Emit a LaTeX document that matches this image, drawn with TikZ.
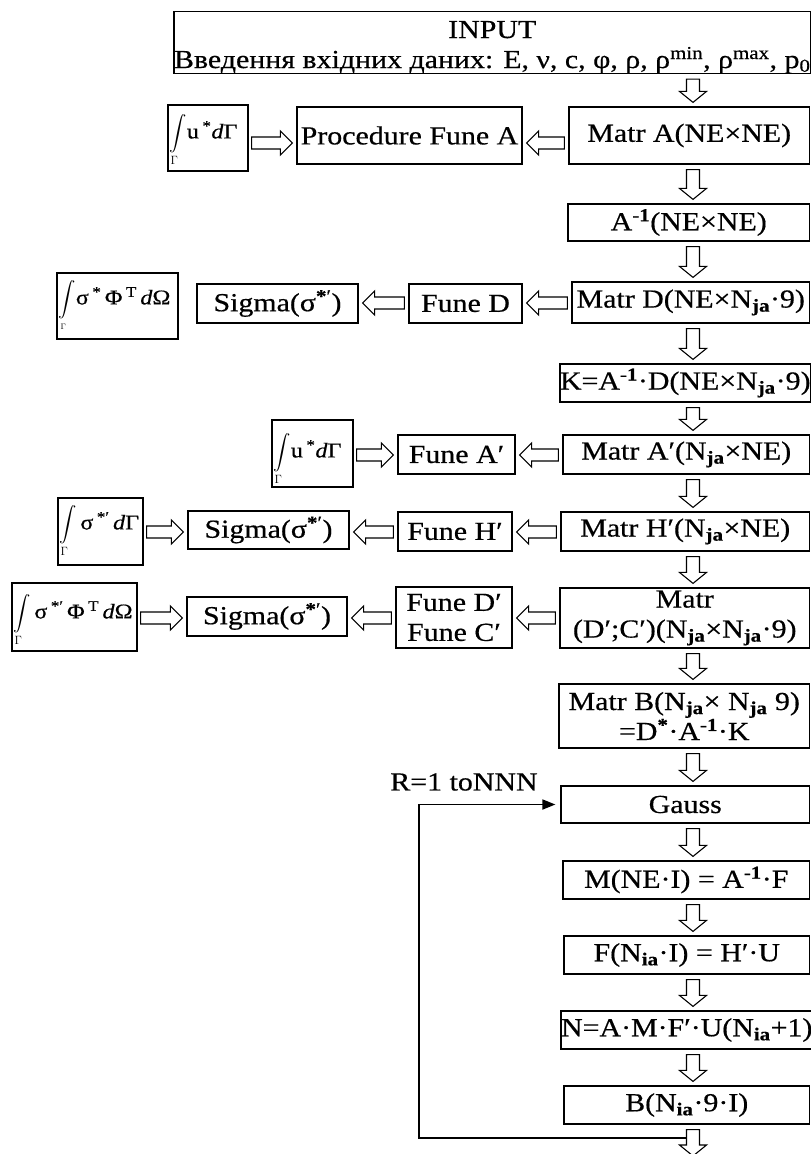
\documentclass[tikz,border=0pt]{standalone}
\usepackage{exscale}
\usepackage{fontspec}
\setmainfont{Liberation Serif}[FakeStretch=1.15,FakeBold=0.5]
\usetikzlibrary{calc,arrows.meta}
\newcommand{\msz}{\fontsize{26}{30}\selectfont}
\newcommand{\isz}{\fontsize{21}{24}\selectfont}
\newcommand{\intsign}[1]{{\fontsize{17}{20}\selectfont$\displaystyle\int\limits_{#1}$}}
\newcommand{\bnode}[6]{\node[box, minimum width=#4pt-#2pt, minimum height=#5pt-#3pt] (#1) at ({(#2+#4)/2},{(#3+#5)/2}) {#6};}
\newcommand{\sgm}{Sigma(σ\textsuperscript{\textbf{*}′})}
\tikzset{
 box/.style={draw=black, line width=1.2pt, inner sep=0pt, align=center, font=\msz},
 inttext/.style={anchor=base west, inner sep=0pt, font=\isz},
 fat/.style={draw=black, line width=1.1pt, fill=white},
 fatdown/.style={fat, to path={let \p1=(\tikztostart), \p2=(\tikztotarget) in
   (\x1-6.5pt,\y1-5pt) -- (\x1-6.5pt,\y2+15pt) -- (\x1-13.5pt,\y2+15pt) -- (\x1,\y2+4pt) -- (\x1+13.5pt,\y2+15pt) -- (\x1+6.5pt,\y2+15pt) -- (\x1+6.5pt,\y1-5pt) -- cycle}},
 fatleft/.style={fat, to path={let \p1=(\tikztostart), \p2=(\tikztotarget) in
   (\x1-4pt,\y1+6pt) -- (\x2+16pt,\y1+6pt) -- (\x2+16pt,\y1+12pt) -- (\x2+4pt,\y1) -- (\x2+16pt,\y1-12pt) -- (\x2+16pt,\y1-6pt) -- (\x1-4pt,\y1-6pt) -- cycle}},
 fatright/.style={fat, to path={let \p1=(\tikztostart), \p2=(\tikztotarget) in
   (\x1+3pt,\y1+6pt) -- (\x2-16pt,\y1+6pt) -- (\x2-16pt,\y1+12pt) -- (\x2-4pt,\y1) -- (\x2-16pt,\y1-12pt) -- (\x2-16pt,\y1-6pt) -- (\x1+3pt,\y1-6pt) -- cycle}},
 loopl/.style={draw=black, line width=1.7pt, -{Triangle[length=13pt,width=10pt]}, shorten >=5pt},
}
\begin{document}
\begin{tikzpicture}[x=1pt,y=-1pt]
\fill[white] (0,0) rectangle (811,1154);
\useasboundingbox (0,0) rectangle (811,1154);
% right column
\bnode{inp}{175}{13}{809.5}{72}{\rule{0pt}{26.6pt}INPUT\\Введення вхідних даних: E, ν, c, φ, ρ, ρ\textsuperscript{min}, ρ\textsuperscript{max}, p\textsubscript{0}}
\bnode{matra}{569}{107}{809.5}{164}{Matr A(NE×NE)}
\bnode{ainv}{568}{204}{809.5}{241}{A\textsuperscript{-\textbf{1}}(NE×NE)}
\bnode{matrd}{572}{282}{809.5}{323}{Matr D(NE×N\textsubscript{\textbf{ja}}·9)}
\bnode{kbox}{561}{364}{809.5}{402}{K=A\textsuperscript{-\textbf{1}}·D(NE×N\textsubscript{\textbf{ja}}·9)}
\bnode{matrap}{563}{435}{809.5}{474}{Matr A′(N\textsubscript{\textbf{ja}}×NE)}
\bnode{matrh}{561}{512}{809.5}{551}{Matr H′(N\textsubscript{\textbf{ja}}×NE)}
\bnode{matrdc}{560}{588}{809.5}{648}{Matr\\(D′;C′)(N\textsubscript{\textbf{ja}}×N\textsubscript{\textbf{ja}}·9)}
\bnode{matrb}{559}{684}{809.5}{748}{Matr B(N\textsubscript{\textbf{ja}}× N\textsubscript{\textbf{ja}} 9)\\=D\textsuperscript{\textbf{*}}·A\textsuperscript{-\textbf{1}}·K}
\bnode{gauss}{561}{786}{809.5}{823}{Gauss}
\bnode{mbox}{563}{861}{809.5}{899}{M(NE·I) = A\textsuperscript{-\textbf{1}}·F}
\bnode{fbox}{564}{936}{809.5}{974}{F(N\textsubscript{\textbf{ia}}·I) = H′·U}
\bnode{nbox}{564}{1011}{809.5}{1049}{N=A·M·F′·U(N\textsubscript{\textbf{ia}}+1)}
\bnode{bbox}{564}{1086}{809.5}{1124}{B(N\textsubscript{\textbf{ia}}·9·I)}
% left boxes
\bnode{int1}{168}{105}{248}{171}{}
\bnode{proc}{297}{107}{522}{164}{Procedure Fune A}
\bnode{int2}{57}{273}{178}{339}{}
\bnode{sig1}{197}{284}{358}{323}{\sgm}
\bnode{funed}{409}{284}{522}{323}{Fune D}
\bnode{int3}{272}{420}{353}{487}{}
\bnode{funea}{398}{435}{515}{474}{Fune A′}
\bnode{int4}{58}{498}{143}{565}{}
\bnode{sig2}{188}{511}{349}{549}{\sgm}
\bnode{funeh}{398}{512}{512}{551}{Fune H′}
\bnode{int5}{12}{583}{137}{651}{}
\bnode{sig3}{187}{597}{347}{636}{\sgm}
\bnode{funedc}{396}{587}{512}{648}{Fune D′\\Fune C′}
% integral texts
\node[inttext] (int1t) at ($(int1.north west)+(2,34)$) {\intsign{\Gamma}u\,\textsuperscript{*}\textit{d}Γ};
\node[inttext] (int2t) at ($(int2.north west)+(2,32)$) {\intsign{\scriptscriptstyle\Gamma}σ\,\textsuperscript{*}\,Φ\,\textsuperscript{T}\,\textit{d}Ω};
\node[inttext] (int3t) at ($(int3.north west)+(2,38)$) {\intsign{\Gamma}u\,\textsuperscript{*}\textit{d}Γ};
\node[inttext] (int4t) at ($(int4.north west)+(2,32)$) {\intsign{\Gamma}\,σ\,\textsuperscript{*′}\,\textit{d}Γ};
\node[inttext] (int5t) at ($(int5.north west)+(2,36)$) {\intsign{\Gamma}\,σ\,\textsuperscript{*′}\,Φ\,\textsuperscript{T}\,\textit{d}Ω};
% coordinates
\coordinate (ax) at (693,0);
\coordinate (r1) at (0,143);
\coordinate (rD) at (0,303);
\coordinate (rA) at (0,455);
\coordinate (rH) at (0,532);
\coordinate (rC) at (0,618);
\coordinate (endc) at (693,1160);
\coordinate (lx) at (419,0);
\coordinate (ls) at (686,1138);
% vertical arrows
\draw[fatdown] (inp.south -| ax) to (matra.north -| ax);
\draw[fatdown] (matra.south -| ax) to (ainv.north -| ax);
\draw[fatdown] (ainv.south -| ax) to (matrd.north -| ax);
\draw[fatdown] (matrd.south -| ax) to (kbox.north -| ax);
\draw[fatdown] (kbox.south -| ax) to (matrap.north -| ax);
\draw[fatdown] (matrap.south -| ax) to (matrh.north -| ax);
\draw[fatdown] (matrh.south -| ax) to (matrdc.north -| ax);
\draw[fatdown] (matrdc.south -| ax) to (matrb.north -| ax);
\draw[fatdown] (matrb.south -| ax) to (gauss.north -| ax);
\draw[fatdown] (gauss.south -| ax) to (mbox.north -| ax);
\draw[fatdown] (mbox.south -| ax) to (fbox.north -| ax);
\draw[fatdown] (fbox.south -| ax) to (nbox.north -| ax);
\draw[fatdown] (nbox.south -| ax) to (bbox.north -| ax);
\draw[fatdown] (bbox.south -| ax) to (endc);
% horizontal arrows
\draw[fatright] (int1.east |- r1) to (proc.west |- r1);
\draw[fatleft] (matra.west |- r1) to (proc.east |- r1);
\draw[fatleft] (funed.west |- rD) to (sig1.east |- rD);
\draw[fatleft] (matrd.west |- rD) to (funed.east |- rD);
\draw[fatright] (int3.east |- rA) to (funea.west |- rA);
\draw[fatleft] (matrap.west |- rA) to (funea.east |- rA);
\draw[fatright] (int4.east |- rH) to (sig2.west |- rH);
\draw[fatleft] (funeh.west |- rH) to (sig2.east |- rH);
\draw[fatleft] (matrh.west |- rH) to (funeh.east |- rH);
\draw[fatright] (int5.east |- rC) to (sig3.west |- rC);
\draw[fatleft] (funedc.west |- rC) to (sig3.east |- rC);
\draw[fatleft] (matrdc.west |- rC) to (funedc.east |- rC);
% loop
\node[font=\msz, inner sep=0pt] (rlab) at (464,782) {R=1 toNNN};
\draw[loopl] (ls) -- (ls -| lx) |- (gauss.west);
\end{tikzpicture}
\end{document}
